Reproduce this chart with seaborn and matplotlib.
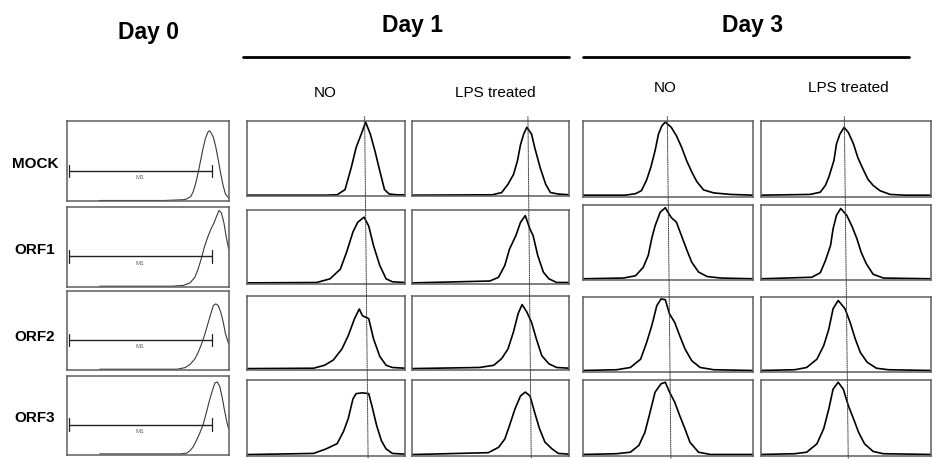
import matplotlib
matplotlib.use("Agg")
import matplotlib.pyplot as plt
from matplotlib.patches import ConnectionPatch
import seaborn as sns
import pandas as pd

sns.set_style("white")
plt.rcParams['font.family'] = ['Liberation Sans', 'DejaVu Sans']
plt.rcParams['text.color'] = 'black'

# ---------------- data ----------------
rows = ["MOCK", "ORF1", "ORF2", "ORF3"]
day_titles = ["Day 0", "Day 1", "Day 3"]
treatments = ["NO", "LPS treated"]
gate_label = "M1"
gate_range = [1, 89.5]      # % of axis
gate_level = 38             # % of max

# Day 0 histograms (x: % of axis, y: % of max)
day0_x = [
    [20, 60, 72, 74, 76.5, 78, 79.5, 81, 82.5, 84, 85.5, 87, 88, 89, 90.5, 92, 93.5, 95, 96.5, 98, 100],
    [20, 65, 72, 76, 79, 81, 83, 85, 87, 89, 91, 92.5, 94, 95.5, 97, 98.5, 100],
    [20, 68, 73, 76, 79, 81, 83, 85, 87, 89, 90.5, 92, 93.5, 95, 96.5, 98, 100],
    [20, 70, 74, 76, 78, 80, 82, 84, 86, 88, 90, 91.5, 93, 94.5, 96, 97.5, 99, 100],
]
day0_y = [
    [1, 1, 2, 3, 6, 12, 22, 35, 50, 65, 78, 86, 88, 86, 80, 68, 52, 35, 20, 9, 4],
    [1, 1, 2, 5, 12, 22, 35, 50, 62, 72, 80, 88, 95, 92, 80, 62, 47],
    [1, 1, 3, 7, 14, 22, 32, 44, 58, 72, 82, 84, 82, 74, 62, 46, 33],
    [1, 1, 2, 5, 10, 18, 27, 37, 52, 68, 82, 91, 92, 86, 72, 55, 40, 33],
]

day1_no_x = [
    [0, 50, 57, 62, 66, 69, 73, 75, 78, 81, 84, 87, 90, 95, 100],
    [0, 44, 52.5, 59, 63, 67, 70, 74, 77, 80, 84, 88, 92, 100],
    [0, 42, 49, 54.5, 60, 64, 68, 71, 73, 77, 80, 84, 88, 92, 100],
    [0, 42, 50, 57, 61, 64, 67, 69, 73, 77, 79, 82, 85, 88, 92, 100],
]
day1_no_y = [
    [1.5, 1.5, 2, 9, 39, 65, 87, 99, 83, 60, 34, 9, 3, 2, 2],
    [1.5, 2, 7, 20, 43, 70, 83, 90, 78, 52, 25, 7, 3, 2],
    [1.5, 2, 6, 13, 28, 46, 69, 82, 73, 69, 42, 18, 6, 3, 2],
    [1.5, 3, 9, 16, 32, 49, 75, 82, 83, 82, 66, 40, 20, 9, 3, 2],
]

day1_lps_x = [
    [0, 51, 57, 61, 64.5, 67, 69, 71, 73, 76, 78, 81.5, 85, 88, 93, 100],
    [0, 49.5, 55, 59, 62, 66, 69, 72, 75, 77, 80, 83.5, 87, 92, 100],
    [0, 43, 52, 57, 61, 64.5, 67.5, 70, 73, 76, 79, 82.5, 87, 92, 100],
    [0, 48.5, 55, 59, 62, 65.5, 69, 72, 75, 78, 81, 84.5, 89, 93, 100],
]
day1_lps_y = [
    [1.5, 2, 5, 16, 29, 47, 69, 83, 92, 83, 65, 38, 16, 5, 3, 2],
    [1.5, 4, 9, 25, 47, 65, 83, 92, 74, 65, 38, 16, 7, 2, 2],
    [1.5, 3, 6, 15, 28, 51, 76, 88, 78, 64, 42, 19, 8, 3, 2],
    [1.5, 4, 11, 22, 40, 62, 79, 84, 79, 57, 36, 18, 9, 3, 2],
]

day3_no_x = [
    [0, 25, 31, 34.5, 37.5, 40, 42.5, 44.5, 46.5, 48.5, 52, 55, 58, 61, 64, 67, 71, 77, 87, 100],
    [0, 24, 31, 35.5, 38.5, 40.5, 42.5, 45.5, 48.5, 52, 55, 58, 61, 64, 68, 73, 81, 100],
    [0, 20, 28, 34, 37.5, 40.5, 43.5, 46, 48.5, 51, 54, 57, 60, 64, 69, 77, 100],
    [0, 20, 28, 33, 36.5, 39.5, 42.5, 46, 48.5, 51, 54, 57, 60, 63, 68, 75, 100],
]
day3_no_y = [
    [2, 2, 4, 8, 22, 39, 61, 83, 94, 99, 92, 81, 66, 48, 33, 20, 9, 5, 3, 2],
    [2, 3, 6, 17, 33, 55, 72, 90, 96, 83, 77, 59, 41, 24, 11, 5, 3, 2],
    [2, 3, 6, 17, 39, 61, 88, 97, 96, 77, 66, 48, 31, 15, 6, 3, 2],
    [2, 3, 5, 14, 31, 57, 84, 95, 97, 84, 71, 53, 36, 18, 5, 2, 2],
]

day3_lps_x = [
    [0, 29, 35, 38, 40, 43, 44.5, 46.5, 49, 51.5, 54.5, 57, 60, 63, 66, 70, 76, 85, 100],
    [0, 30, 35, 38, 41, 42.5, 44.5, 47, 50.5, 53.5, 56.5, 59, 62, 66, 72, 100],
    [0, 20, 27, 33, 37, 40, 42.5, 45.5, 49.5, 52.5, 55.5, 58.5, 62.5, 68, 75, 100],
    [0, 20, 27, 33, 37, 40, 42.5, 45.5, 48.5, 51.5, 54.5, 57.5, 61, 66, 72, 100],
]
day3_lps_y = [
    [2, 3, 6, 15, 26, 48, 70, 83, 92, 85, 70, 52, 37, 23, 15, 8, 3, 2, 2],
    [2, 4, 10, 26, 46, 68, 86, 95, 86, 72, 55, 37, 22, 8, 3, 2],
    [2, 3, 6, 17, 35, 57, 84, 95, 84, 66, 44, 26, 13, 5, 3, 2],
    [2, 3, 5, 16, 36, 62, 88, 97, 88, 66, 49, 31, 16, 6, 3, 2],
]

# reference (dotted) line positions per treatment column: [top, bottom] in % of axis
ref_d1_no = [74.4, 76.6]
ref_d1_lps = [73.7, 75.8]
ref_d3_no = [49.7, 51.8]
ref_d3_lps = [49.1, 51.4]

# ---------------- layout (pixels) ----------------
W, H = 936, 460
fig = plt.figure(figsize=(W / 100, H / 100), dpi=100)

col_px = {
    "d0": (67.3, 228.7),
    "d1no": (247.3, 405.0),
    "d1lps": (412.0, 569.3),
    "d3no": (582.7, 753.0),
    "d3lps": (760.7, 931.0),
}
rows_d0 = [(122.3, 202.3), (207.5, 288.0), (292.3, 371.0), (376.7, 455.7)]
rows_d1 = [(122.3, 197.3), (210.7, 285.0), (296.7, 370.7), (381.0, 456.7)]
rows_d3 = [(122.3, 197.7), (205.7, 281.3), (297.7, 373.0), (381.0, 457.0)]


def make_ax(cx, ry):
    l, r = cx
    t, b = ry
    ax = fig.add_axes([l / W, 1 - b / H, (r - l) / W, (b - t) / H])
    ax.set_xlim(0, 100)
    ax.set_ylim(0, 100)
    ax.set_xticks([])
    ax.set_yticks([])
    for s in ax.spines.values():
        s.set_color("#5e5e5e")
        s.set_linewidth(1.1)
        s.set_visible(True)
    ax.patch.set_alpha(0)
    return ax


def draw_curve(ax, xs, ys, color, lw):
    df = pd.DataFrame({"x": xs, "y": ys})
    sns.lineplot(data=df, x="x", y="y", ax=ax, color=color, linewidth=lw,
                 estimator=None, sort=False, legend=False)
    ax.set_xlabel("")
    ax.set_ylabel("")


# Day 0 column
for i in range(4):
    ax = make_ax(col_px["d0"], rows_d0[i])
    draw_curve(ax, day0_x[i], day0_y[i], "#3a3a3a", 0.8)
    ax.plot(gate_range, [gate_level, gate_level], color="#222222", lw=1.0)
    for gx in gate_range:
        ax.plot([gx, gx], [gate_level - 8, gate_level + 8], color="#222222", lw=0.9)
    ax.text(sum(gate_range) / 2, gate_level - 4, gate_label, fontsize=4.5,
            color="#666666", ha="center", va="top")

cols = [
    ("d1no", rows_d1, day1_no_x, day1_no_y, ref_d1_no),
    ("d1lps", rows_d1, day1_lps_x, day1_lps_y, ref_d1_lps),
    ("d3no", rows_d3, day3_no_x, day3_no_y, ref_d3_no),
    ("d3lps", rows_d3, day3_lps_x, day3_lps_y, ref_d3_lps),
]
for key, rws, xs_all, ys_all, ref in cols:
    axes = []
    for i in range(4):
        ax = make_ax(col_px[key], rws[i])
        draw_curve(ax, xs_all[i], ys_all[i], "black", 1.2)
        axes.append(ax)
    con = ConnectionPatch(xyA=(ref[0], 106), coordsA=axes[0].transData,
                          xyB=(ref[1], -4), coordsB=axes[3].transData,
                          color="#333333", lw=0.7, linestyle=(0, (1, 1.2)))
    fig.add_artist(con)

# Titles
fig.text(148 / W, 1 - 39 / H, day_titles[0], fontsize=16.5, fontweight="bold",
         ha="center", va="baseline", color="black")
fig.text(413 / W, 1 - 32.3 / H, day_titles[1], fontsize=16.5, fontweight="bold",
         ha="center", va="baseline", color="black")
fig.text(753 / W, 1 - 32.3 / H, day_titles[2], fontsize=16.5, fontweight="bold",
         ha="center", va="baseline", color="black")

# header bars
fig.add_artist(plt.Line2D([243.3 / W, 568.7 / W], [1 - 58.3 / H, 1 - 58.3 / H],
                          color="black", lw=2.0))
fig.add_artist(plt.Line2D([583 / W, 909 / W], [1 - 58.3 / H, 1 - 58.3 / H],
                          color="black", lw=2.0))

# treatment labels
for xc, yc, lab in [(325, 93.3, treatments[0]), (495.7, 93.3, treatments[1]),
                    (664.7, 88.3, treatments[0]), (848, 88.3, treatments[1])]:
    fig.text(xc / W, 1 - yc / H, lab, fontsize=11, ha="center", va="center",
             color="black")

# row labels
for yc, lab in zip([164.3, 250, 336.7, 418.3], rows):
    fig.text(35 / W, 1 - yc / H, lab, fontsize=11, fontweight="bold",
             ha="center", va="center", color="black")

fig.savefig("out.png", dpi=100, facecolor="white")
